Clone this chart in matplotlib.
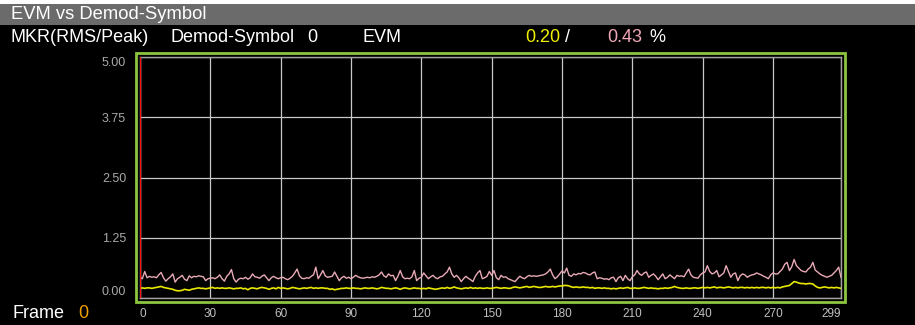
import numpy as np
import matplotlib.pyplot as plt
from matplotlib.patches import Rectangle

# EVM per demod symbol (%)
peak_evm = [
    0.43, 0.40, 0.55, 0.42, 0.45, 0.43, 0.44, 0.42, 0.48, 0.53, 0.42, 0.35, 0.40, 0.44, 0.50, 0.33, 0.40, 0.43, 0.47, 0.39,
    0.36, 0.46, 0.42, 0.45, 0.44, 0.46, 0.45, 0.44, 0.36, 0.40, 0.41, 0.42, 0.40, 0.43, 0.48, 0.40, 0.35, 0.45, 0.50, 0.59,
    0.40, 0.33, 0.39, 0.41, 0.40, 0.43, 0.39, 0.42, 0.50, 0.44, 0.43, 0.41, 0.45, 0.48, 0.42, 0.36, 0.42, 0.45, 0.42, 0.40,
    0.42, 0.43, 0.40, 0.38, 0.41, 0.45, 0.52, 0.60, 0.46, 0.41, 0.40, 0.42, 0.41, 0.45, 0.48, 0.64, 0.40, 0.48, 0.57, 0.46,
    0.43, 0.44, 0.45, 0.54, 0.45, 0.36, 0.42, 0.45, 0.41, 0.43, 0.40, 0.43, 0.47, 0.44, 0.42, 0.41, 0.42, 0.43, 0.42, 0.44,
    0.43, 0.45, 0.48, 0.54, 0.46, 0.43, 0.50, 0.46, 0.47, 0.36, 0.45, 0.57, 0.44, 0.40, 0.41, 0.40, 0.44, 0.57, 0.36, 0.41,
    0.43, 0.52, 0.46, 0.40, 0.44, 0.47, 0.42, 0.40, 0.44, 0.45, 0.50, 0.54, 0.64, 0.50, 0.43, 0.47, 0.42, 0.34, 0.40, 0.45,
    0.41, 0.38, 0.34, 0.45, 0.52, 0.57, 0.40, 0.42, 0.45, 0.55, 0.47, 0.57, 0.42, 0.38, 0.47, 0.43, 0.44, 0.40, 0.38, 0.36,
    0.34, 0.40, 0.45, 0.42, 0.40, 0.44, 0.47, 0.45, 0.46, 0.45, 0.46, 0.47, 0.48, 0.50, 0.54, 0.60, 0.48, 0.40, 0.44, 0.50,
    0.56, 0.52, 0.62, 0.47, 0.45, 0.50, 0.48, 0.51, 0.50, 0.53, 0.52, 0.49, 0.48, 0.52, 0.54, 0.40, 0.42, 0.41, 0.39, 0.40,
    0.38, 0.42, 0.43, 0.34, 0.42, 0.45, 0.36, 0.47, 0.40, 0.36, 0.44, 0.48, 0.57, 0.50, 0.47, 0.52, 0.54, 0.43, 0.47, 0.50,
    0.45, 0.38, 0.44, 0.50, 0.40, 0.43, 0.48, 0.44, 0.40, 0.47, 0.45, 0.46, 0.44, 0.52, 0.60, 0.48, 0.43, 0.42, 0.41, 0.48,
    0.52, 0.54, 0.67, 0.55, 0.50, 0.52, 0.57, 0.44, 0.48, 0.52, 0.67, 0.55, 0.43, 0.50, 0.52, 0.36, 0.46, 0.50, 0.48, 0.43,
    0.46, 0.48, 0.49, 0.52, 0.50, 0.48, 0.45, 0.43, 0.40, 0.48, 0.52, 0.50, 0.50, 0.55, 0.60, 0.70, 0.74, 0.57, 0.65, 0.80,
    0.67, 0.62, 0.57, 0.55, 0.54, 0.60, 0.64, 0.74, 0.58, 0.54, 0.50, 0.47, 0.45, 0.43, 0.45, 0.47, 0.52, 0.57, 0.64, 0.43,
]
rms_evm = [
    0.20, 0.21, 0.20, 0.21, 0.21, 0.20, 0.21, 0.22, 0.23, 0.24, 0.22, 0.21, 0.20, 0.19, 0.18, 0.16, 0.15, 0.15, 0.16, 0.18,
    0.17, 0.16, 0.18, 0.19, 0.20, 0.21, 0.20, 0.20, 0.19, 0.20, 0.21, 0.22, 0.20, 0.21, 0.20, 0.21, 0.20, 0.20, 0.21, 0.20,
    0.19, 0.20, 0.20, 0.21, 0.19, 0.20, 0.17, 0.20, 0.21, 0.20, 0.19, 0.21, 0.22, 0.21, 0.20, 0.18, 0.20, 0.21, 0.19, 0.22,
    0.20, 0.21, 0.20, 0.19, 0.20, 0.22, 0.21, 0.20, 0.19, 0.20, 0.21, 0.20, 0.21, 0.22, 0.20, 0.21, 0.20, 0.21, 0.21, 0.20,
    0.20, 0.18, 0.19, 0.17, 0.18, 0.19, 0.20, 0.20, 0.21, 0.20, 0.20, 0.21, 0.20, 0.20, 0.19, 0.20, 0.21, 0.20, 0.20, 0.21,
    0.20, 0.19, 0.20, 0.22, 0.21, 0.20, 0.20, 0.19, 0.20, 0.21, 0.20, 0.18, 0.20, 0.21, 0.20, 0.19, 0.20, 0.21, 0.20, 0.20,
    0.19, 0.20, 0.19, 0.21, 0.20, 0.19, 0.18, 0.19, 0.20, 0.21, 0.20, 0.22, 0.20, 0.21, 0.23, 0.21, 0.20, 0.19, 0.20, 0.21,
    0.20, 0.22, 0.20, 0.21, 0.20, 0.21, 0.20, 0.20, 0.21, 0.20, 0.20, 0.21, 0.22, 0.21, 0.20, 0.21, 0.21, 0.20, 0.20, 0.22,
    0.23, 0.22, 0.21, 0.22, 0.23, 0.24, 0.22, 0.23, 0.24, 0.23, 0.22, 0.22, 0.23, 0.24, 0.23, 0.23, 0.24, 0.23, 0.24, 0.25,
    0.25, 0.26, 0.26, 0.25, 0.23, 0.22, 0.23, 0.22, 0.22, 0.23, 0.22, 0.22, 0.21, 0.22, 0.20, 0.21, 0.21, 0.20, 0.21, 0.20,
    0.20, 0.19, 0.20, 0.19, 0.20, 0.21, 0.20, 0.21, 0.22, 0.20, 0.20, 0.21, 0.20, 0.20, 0.21, 0.22, 0.21, 0.20, 0.21, 0.20,
    0.20, 0.19, 0.20, 0.20, 0.21, 0.20, 0.21, 0.22, 0.24, 0.22, 0.21, 0.20, 0.20, 0.21, 0.20, 0.20, 0.21, 0.21, 0.20, 0.21,
    0.22, 0.21, 0.22, 0.21, 0.22, 0.23, 0.21, 0.22, 0.22, 0.21, 0.22, 0.23, 0.22, 0.21, 0.22, 0.21, 0.22, 0.22, 0.21, 0.22,
    0.21, 0.22, 0.21, 0.22, 0.21, 0.22, 0.22, 0.21, 0.22, 0.21, 0.22, 0.21, 0.22, 0.21, 0.23, 0.24, 0.25, 0.26, 0.30, 0.34,
    0.33, 0.31, 0.30, 0.30, 0.29, 0.30, 0.30, 0.29, 0.25, 0.22, 0.21, 0.22, 0.23, 0.22, 0.21, 0.22, 0.21, 0.22, 0.21, 0.20,
]
x_ticks = [0, 30, 60, 90, 120, 150, 180, 210, 240, 270, 299]
y_ticks = [0.00, 1.25, 2.50, 3.75, 5.00]

W, H = 915, 325
plt.rcParams['font.family'] = ['Liberation Sans', 'DejaVu Sans']

fig = plt.figure(figsize=(W / 100, H / 100), dpi=100, facecolor='black')


def fx(px):
    return px / W


def fy(py):
    return 1 - py / H


# title bar
fig.patches.append(Rectangle((0, fy(25)), 1, fy(4) - fy(25), transform=fig.transFigure,
                             facecolor='#6b6b6b', edgecolor='none', zorder=0))
fig.patches.append(Rectangle((0, fy(4)), 1, 1 - fy(4), transform=fig.transFigure,
                             facecolor='white', edgecolor='none', zorder=0))
fig.text(fx(11), fy(14.5), 'EVM vs Demod-Symbol', color='white', fontsize=13.2, va='center')

# marker readout row
fs = 13
row_y = fy(37)
fig.text(fx(11), row_y, 'MKR(RMS/Peak)', color='white', fontsize=fs, va='center')
fig.text(fx(171), row_y, 'Demod-Symbol', color='white', fontsize=fs, va='center')
fig.text(fx(307), row_y, '0', color='white', fontsize=fs, va='center')
fig.text(fx(363), row_y, 'EVM', color='white', fontsize=fs, va='center')
fig.text(fx(525), row_y, '%.2f' % rms_evm[0], color='#f0f000', fontsize=fs, va='center')
fig.text(fx(565), row_y, '/', color='white', fontsize=fs, va='center')
fig.text(fx(607), row_y, '%.2f' % peak_evm[0], color='#f0a8b8', fontsize=fs, va='center')
fig.text(fx(649), row_y, '%', color='white', fontsize=fs, va='center')

fig.text(fx(12), fy(314), 'Frame', color='white', fontsize=fs, va='center')
fig.text(fx(78), fy(314), '0', color='#f0a000', fontsize=fs, va='center')

# green active-window frame
fig.patches.append(Rectangle((fx(136), fy(302)), fx(845) - fx(136), fy(53) - fy(302),
                             transform=fig.transFigure, fill=False,
                             edgecolor='#8cc63f', linewidth=2, zorder=1))

ax = fig.add_axes([fx(140), fy(298), fx(841) - fx(140), fy(57) - fy(298)])
ax.set_facecolor('black')

symbols = np.arange(len(peak_evm))
ax.plot(symbols, peak_evm, color='#e8aab6', linewidth=1.0, zorder=3)
ax.plot(symbols, rms_evm, color='#e8e800', linewidth=1.2, zorder=3)
ax.axvline(0, color='#ff1010', linewidth=1.6, zorder=4)

ax.set_xlim(0, 299)
ax.set_ylim(0, 5)
ax.set_xticks(x_ticks)
ax.set_yticks(y_ticks)
ax.set_yticklabels(['%.2f' % v for v in y_ticks])
ax.grid(True, color='#c8c8c8', linewidth=0.9)
ax.tick_params(length=0)
ax.tick_params(axis='x', colors='#c0c0c0', labelsize=8.5, pad=7)
ax.tick_params(axis='y', colors='#a8a8a8', labelsize=9, pad=10)
for lbl in ax.get_yticklabels():
    lbl.set_family(['Liberation Sans Narrow', 'Liberation Sans'])
ylabels = ax.get_yticklabels()
ylabels[0].set_va('bottom')
ylabels[-1].set_va('top')
xlabels = ax.get_xticklabels()
xlabels[0].set_ha('left')
xlabels[-1].set_ha('right')
for side in ['top', 'bottom', 'right', 'left']:
    ax.spines[side].set_color('#a0a0a0')
    ax.spines[side].set_linewidth(1)

fig.savefig('out.png', dpi=100, facecolor='black')
